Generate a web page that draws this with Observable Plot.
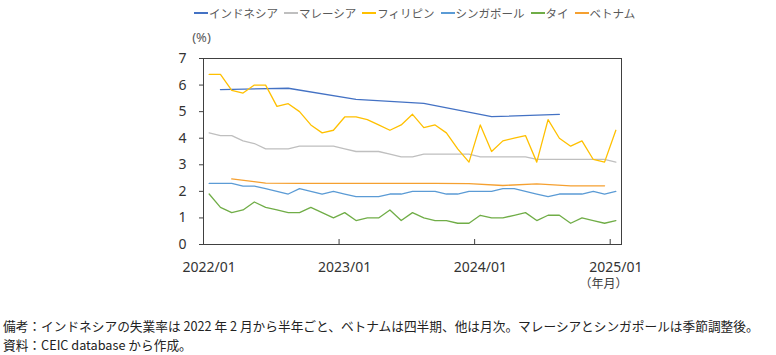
<!DOCTYPE html>
<html><head><meta charset="utf-8">
<script src="https://cdn.jsdelivr.net/npm/d3@7"></script>
<script src="https://cdn.jsdelivr.net/npm/@observablehq/plot@0.6"></script>
<style>
body{margin:0;background:#fff;font-family:"Noto Sans CJK JP",sans-serif}
#legend{display:flex;height:26px;align-items:center;padding-left:194px;font-size:11.5px;color:#595959;white-space:nowrap}
.item{display:flex;align-items:center;margin-right:6px}
.sw{display:inline-block;width:14px;height:1.6px;margin-right:1px}
#caption{margin-top:16px;padding-left:3px;font-size:12.7px;line-height:19px;color:#222;white-space:nowrap}
</style></head>
<body>
<div id="legend"></div>
<div id="chart"></div>
<div id="caption"></div>
<script>
// categories
const startYear = 2022, nMonths = 37;
const months = d3.range(nMonths).map(i => `${startYear + Math.floor(i / 12)}/${String(i % 12 + 1).padStart(2, "0")}`);
const xTickMonths = ["2022/01", "2023/01", "2024/01", "2025/01"];
const yTicks = [0, 1, 2, 3, 4, 5, 6, 7];

const seriesNames = ["インドネシア", "マレーシア", "フィリピン", "シンガポール", "タイ", "ベトナム"];
const seriesColors = ["#4472C4", "#BFBFBF", "#FFC000", "#5B9BD5", "#70AD47", "#F5A030"];

// Indonesia: semiannual from 2022/02
const indonesiaMonths = ["2022/02", "2022/08", "2023/02", "2023/08", "2024/02", "2024/08"];
const indonesia = [5.83, 5.88, 5.46, 5.31, 4.81, 4.90];
// Vietnam: quarterly
const vietnamMonths = ["2022/03", "2022/06", "2022/09", "2022/12", "2023/03", "2023/06", "2023/09", "2023/12", "2024/03", "2024/06", "2024/09", "2024/12"];
const vietnam = [2.47, 2.31, 2.30, 2.30, 2.30, 2.30, 2.30, 2.29, 2.22, 2.28, 2.21, 2.21];
// monthly 2022/01 - 2025/01
const malaysia = [4.2, 4.1, 4.1, 3.9, 3.8, 3.6, 3.6, 3.6, 3.7, 3.7, 3.7, 3.7,
  3.6, 3.5, 3.5, 3.5, 3.4, 3.3, 3.3, 3.4, 3.4, 3.4, 3.4, 3.4,
  3.3, 3.3, 3.3, 3.3, 3.3, 3.2, 3.2, 3.2, 3.2, 3.2, 3.2, 3.2, 3.1];
const philippines = [6.4, 6.4, 5.8, 5.7, 6.0, 6.0, 5.2, 5.3, 5.0, 4.5, 4.2, 4.3,
  4.8, 4.8, 4.7, 4.5, 4.3, 4.5, 4.9, 4.4, 4.5, 4.2, 3.6, 3.1,
  4.5, 3.5, 3.9, 4.0, 4.1, 3.1, 4.7, 4.0, 3.7, 3.9, 3.2, 3.1, 4.3];
const singapore = [2.3, 2.3, 2.3, 2.2, 2.2, 2.1, 2.0, 1.9, 2.1, 2.0, 1.9, 2.0,
  1.9, 1.8, 1.8, 1.8, 1.9, 1.9, 2.0, 2.0, 2.0, 1.9, 1.9, 2.0,
  2.0, 2.0, 2.1, 2.1, 2.0, 1.9, 1.8, 1.9, 1.9, 1.9, 2.0, 1.9, 2.0];
const thailand = [1.9, 1.4, 1.2, 1.3, 1.6, 1.4, 1.3, 1.2, 1.2, 1.4, 1.2, 1.0,
  1.2, 0.9, 1.0, 1.0, 1.3, 0.9, 1.2, 1.0, 0.9, 0.9, 0.8, 0.8,
  1.1, 1.0, 1.0, 1.1, 1.2, 0.9, 1.1, 1.1, 0.8, 1.0, 0.9, 0.8, 0.9];

const captionLines = [
  "備考：インドネシアの失業率は 2022 年 2 月から半年ごと、ベトナムは四半期、他は月次。マレーシアとシンガポールは季節調整後。",
  "資料：CEIC database から作成。"
];

const toRows = (ms, vals) => ms.map((m, i) => ({month: m, value: vals[i]}));
const seriesData = [
  toRows(indonesiaMonths, indonesia),
  toRows(months, malaysia),
  toRows(months, philippines),
  toRows(months, singapore),
  toRows(months, thailand),
  toRows(vietnamMonths, vietnam)
];
const mx = d => months.indexOf(d.month) + 0.5;

// legend
const legend = document.getElementById("legend");
seriesNames.forEach((n, i) => {
  const it = document.createElement("div"); it.className = "item";
  const sw = document.createElement("span"); sw.className = "sw"; sw.style.background = seriesColors[i];
  const tx = document.createElement("span"); tx.textContent = n;
  it.append(sw, tx); legend.append(it);
});

const chart = Plot.plot({
  width: 776, height: 274,
  marginLeft: 203, marginRight: 155, marginTop: 32, marginBottom: 56,
  style: {fontFamily: "'Noto Sans','Noto Sans CJK JP',sans-serif", fontSize: "14px", color: "#333", background: "#fff", overflow: "visible"},
  x: {type: "linear", domain: [0, nMonths]},
  y: {domain: [0, 7]},
  marks: [
    Plot.axisY({ticks: yTicks, tickSize: 4, tickPadding: 13, tickFormat: d => String(d), label: null, fontSize: 14, stroke: "#404040"}),
    Plot.axisX({ticks: xTickMonths.map(m => months.indexOf(m)), tickSize: -5, tickFormat: () => "", label: null, stroke: "#404040"}),
    Plot.axisX({ticks: xTickMonths.map(m => months.indexOf(m) + 0.5), tickSize: 0, tickPadding: 18, tickFormat: (d, i) => xTickMonths[i], label: null, fontSize: 14}),
    ...seriesData.map((rows, k) => Plot.line(rows, {x: mx, y: "value", stroke: seriesColors[k], strokeWidth: 1.3})),
    Plot.frame({stroke: "#404040", strokeWidth: 1}),
    Plot.text(["(%)"], {frameAnchor: "top-left", textAnchor: "middle", lineAnchor: "middle", dx: -2, dy: -21, fontSize: 13, fill: "#595959"}),
    Plot.text(["（年月）"], {frameAnchor: "bottom-right", textAnchor: "middle", lineAnchor: "middle", dx: -18, dy: 40, fontSize: 12, fill: "#404040", fontFamily: "Noto Sans CJK JP"})
  ]
});
document.getElementById("chart").append(chart);

const cap = document.getElementById("caption");
captionLines.forEach(t => { const d = document.createElement("div"); d.textContent = t; cap.append(d); });
</script>
</body></html>
